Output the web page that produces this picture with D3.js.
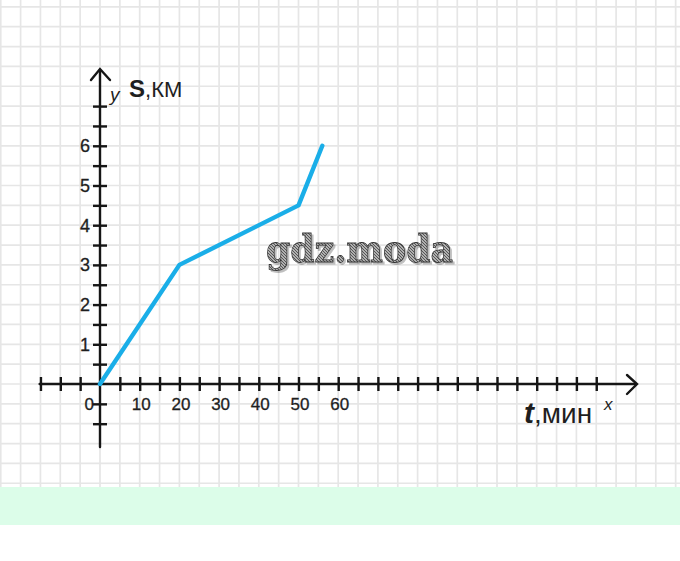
<!DOCTYPE html>
<html>
<head>
<meta charset="utf-8">
<script src="https://cdn.jsdelivr.net/npm/d3@7"></script>
<style>
html,body{margin:0;padding:0;background:#fff;}
svg{display:block;}
</style>
</head>
<body>
<svg id="chart" width="680" height="561"></svg>
<script>
// ---- data ----
const tMinutes = [0, 20, 50, 56];
const sKm = [0, 3, 4.5, 6];
const xTickLabels = [10, 20, 30, 40, 50, 60];
const yTickLabels = [1, 2, 3, 4, 5, 6];
const xMinorTicks = d3.range(-15, 126, 5);
const yMinorTicks = d3.range(-1, 7.01, 0.5);

const W = 680, H = 561;
const cell = 19.85;
const ox = 100, oy = 384;
const svg = d3.select("#chart");

const x = d3.scaleLinear().domain([0, 5]).range([ox, ox + cell]);
const y = d3.scaleLinear().domain([0, 0.5]).range([oy, oy - cell]);

// background
svg.append("rect").attr("width", W).attr("height", H).attr("fill", "#fff");
const gridBottom = 487;
svg.append("rect").attr("x", 0).attr("y", gridBottom).attr("width", W).attr("height", 38).attr("fill", "#dcfde9");

// grid
const grid = svg.append("g").attr("stroke", "#e6e6e6").attr("stroke-width", 1.7);
const gx = d3.range(-6, 30).map(k => ox + k * cell).filter(v => v >= -2 && v <= W + 2);
const gy = d3.range(-20, 6).map(k => oy + k * cell).filter(v => v >= -2 && v <= gridBottom);
grid.selectAll("line.v").data(gx).join("line").attr("class", "v")
  .attr("x1", d => d).attr("x2", d => d).attr("y1", 0).attr("y2", gridBottom);
grid.selectAll("line.h").data(gy).join("line").attr("class", "h")
  .attr("x1", 0).attr("x2", W).attr("y1", d => d).attr("y2", d => d);

// watermark
const defs = svg.append("defs");
const pat = defs.append("pattern").attr("id", "hatch").attr("patternUnits", "userSpaceOnUse")
  .attr("width", 3).attr("height", 3);
pat.append("rect").attr("width", 3).attr("height", 3).attr("fill", "#b0b0b0");
pat.append("line").attr("x1", 0).attr("y1", 0).attr("x2", 3).attr("y2", 3).attr("stroke", "#555").attr("stroke-width", 1);
const flt = defs.append("filter").attr("id", "shadow").attr("x", "-10%").attr("y", "-20%").attr("width", "120%").attr("height", "150%");
flt.append("feDropShadow").attr("dx", 2).attr("dy", 2).attr("stdDeviation", 0.6)
  .attr("flood-color", "#000").attr("flood-opacity", 0.25);
svg.append("text").attr("x", 266).attr("y", 262)
  .attr("font-family", "DejaVu Serif").attr("font-weight", "bold").attr("font-size", 38)
  .attr("textLength", 187).attr("lengthAdjust", "spacingAndGlyphs")
  .attr("fill", "url(#hatch)").attr("stroke", "#333").attr("stroke-width", 0.8)
  .attr("filter", "url(#shadow)").text("gdz.moda");

// axes
const axisColor = "#161616";
const ax = svg.append("g").attr("stroke", axisColor).attr("stroke-width", 2.4).attr("fill", "none").attr("stroke-linecap", "round");
ax.append("line").attr("x1", x(-15.2)).attr("x2", 636).attr("y1", oy).attr("y2", oy);
ax.append("path").attr("d", `M627,375 L637,${oy} L627,394`);
ax.append("line").attr("x1", ox).attr("x2", ox).attr("y1", 447).attr("y2", 70);
ax.append("path").attr("d", `M91,80 L${ox},69 L110,80`);

// x ticks via d3 axis
const xAxisG = svg.append("g").attr("transform", `translate(0,${oy})`)
  .call(d3.axisBottom(x).tickValues(xMinorTicks.filter(v => v !== 0)).tickFormat(""));
xAxisG.select(".domain").remove();
xAxisG.selectAll(".tick line").attr("y1", -7).attr("y2", 7).attr("stroke", axisColor).attr("stroke-width", 2.4);

// y ticks
const yAxisG = svg.append("g").attr("transform", `translate(${ox},0)`)
  .call(d3.axisLeft(y).tickValues(yMinorTicks.filter(v => v !== 0)).tickFormat(""));
yAxisG.select(".domain").remove();
yAxisG.selectAll(".tick line").attr("x1", -7).attr("x2", 7).attr("stroke", axisColor).attr("stroke-width", 2.4);

// tick labels
const font = "Liberation Sans, Arial, sans-serif";
const xl = svg.append("g").attr("font-family", font).attr("font-size", 17).attr("fill", "#1e1e1e")
  .attr("text-anchor", "middle").attr("stroke", "#1e1e1e").attr("stroke-width", 0.3);
xl.selectAll("text").data(xTickLabels).join("text")
  .attr("x", d => x(d) + 1.5).attr("y", oy + 26).text(d => d);
xl.append("text").attr("x", 94).attr("y", oy + 26).attr("text-anchor", "end").text("0");

const yl = svg.append("g").attr("font-family", font).attr("font-size", 18).attr("fill", "#1e1e1e")
  .attr("text-anchor", "end").attr("stroke", "#1e1e1e").attr("stroke-width", 0.3);
yl.selectAll("text").data(yTickLabels).join("text")
  .attr("x", 90).attr("y", d => y(d) + 6.5).text(d => d);

// axis titles
svg.append("text").attr("x", 110).attr("y", 101).attr("font-family", font).attr("font-style", "italic")
  .attr("font-size", 19).attr("fill", "#1e1e1e").text("y");
const yt = svg.append("text").attr("x", 129).attr("y", 97).attr("font-family", font).attr("font-size", 22).attr("fill", "#1e1e1e");
yt.append("tspan").attr("font-weight", "bold").attr("font-size", 24).text("S");
yt.append("tspan").text(",КМ");

const xt = svg.append("text").attr("x", 524).attr("y", 423).attr("font-family", font).attr("font-size", 28).attr("fill", "#1e1e1e");
xt.append("tspan").attr("font-weight", "bold").attr("font-style", "italic").attr("font-size", 30).text("t");
xt.append("tspan").text(",мин");
svg.append("text").attr("x", 604).attr("y", 410).attr("font-family", font).attr("font-style", "italic")
  .attr("font-size", 17).attr("fill", "#1e1e1e").text("x");

// data line
const pts = tMinutes.map((t, i) => [t, sKm[i]]);
svg.append("path").datum(pts)
  .attr("d", d3.line().x(d => x(d[0])).y(d => y(d[1])))
  .attr("fill", "none").attr("stroke", "#1aaee8").attr("stroke-width", 4.4)
  .attr("stroke-linecap", "round").attr("stroke-linejoin", "round");
</script>
</body>
</html>
